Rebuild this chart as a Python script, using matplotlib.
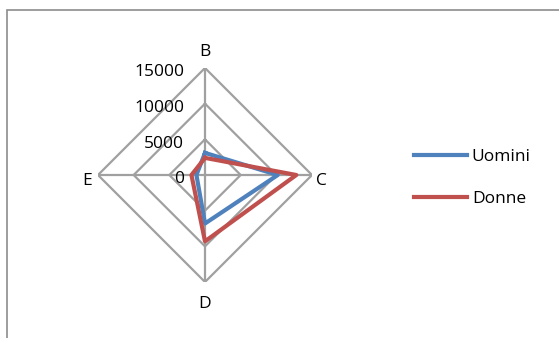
import matplotlib.pyplot as plt
import numpy as np
from matplotlib.patches import Rectangle

categories = ['B', 'C', 'D', 'E']
uomini = [3100, 10200, 6800, 1200]
donne = [2400, 12800, 9300, 1900]
rings = [5000, 10000, 15000]
tick_labels = ['0', '5000', '10000', '15000']

plt.rcParams['font.family'] = ['Open Sans', 'DejaVu Sans']

fig = plt.figure(figsize=(5.59, 3.38), dpi=100)

# chart area border (cut off on right and bottom like the screenshot)
fig.patches.append(Rectangle((6.5/559, -0.05), 1.2, (338-9.5)/338 + 0.05,
                             transform=fig.transFigure, fill=False,
                             edgecolor='#8c8c8c', linewidth=1.2))

ax = fig.add_axes([98/559, 56/338, 214/559, 214/338], projection='polar')
ax.set_theta_zero_location('N')
ax.set_theta_direction(-1)
ax.set_ylim(0, 15000)
ax.grid(False)
ax.spines['polar'].set_visible(False)
ax.set_xticks([])
ax.set_yticks([])
ax.patch.set_alpha(0)

theta = np.linspace(0, 2*np.pi, len(categories), endpoint=False)
theta_c = np.append(theta, theta[0])

grid_col = '#a0a0a0'
for r in rings:
    ax.plot(theta_c, [r]*len(theta_c), color=grid_col, lw=1.6, zorder=1)
for t in theta:
    ax.plot([t, t], [0, 15000], color=grid_col, lw=1.6, zorder=1)

ax.plot(theta_c, uomini + uomini[:1], color='#4f81bd', lw=3, label='Uomini', zorder=3)
ax.plot(theta_c, donne + donne[:1], color='#c0504d', lw=3, label='Donne', zorder=4)

# category labels
offsets = [(0, 6), (3, -4), (0, -10), (-4, -4)]
aligns = [('center', 'bottom'), ('left', 'center'), ('center', 'top'), ('right', 'center')]
for t, lab, off, (ha, va) in zip(theta, categories, offsets, aligns):
    ax.annotate(lab, xy=(t, 15000), xytext=off, textcoords='offset points',
                ha=ha, va=va, fontsize=12.5, annotation_clip=False)

# value labels along the top axis
for r, lab in zip([0] + rings, tick_labels):
    ax.annotate(lab, xy=(0, r), xytext=(-15, -3), textcoords='offset points',
                ha='right', va='center', fontsize=12.5, annotation_clip=False)

fig.legend(loc='center left', bbox_to_anchor=(398/559, 1 - 178/338),
           frameon=False, fontsize=12.5, handlelength=3.1, handletextpad=0.25,
           labelspacing=1.5)

plt.savefig('out.png')
